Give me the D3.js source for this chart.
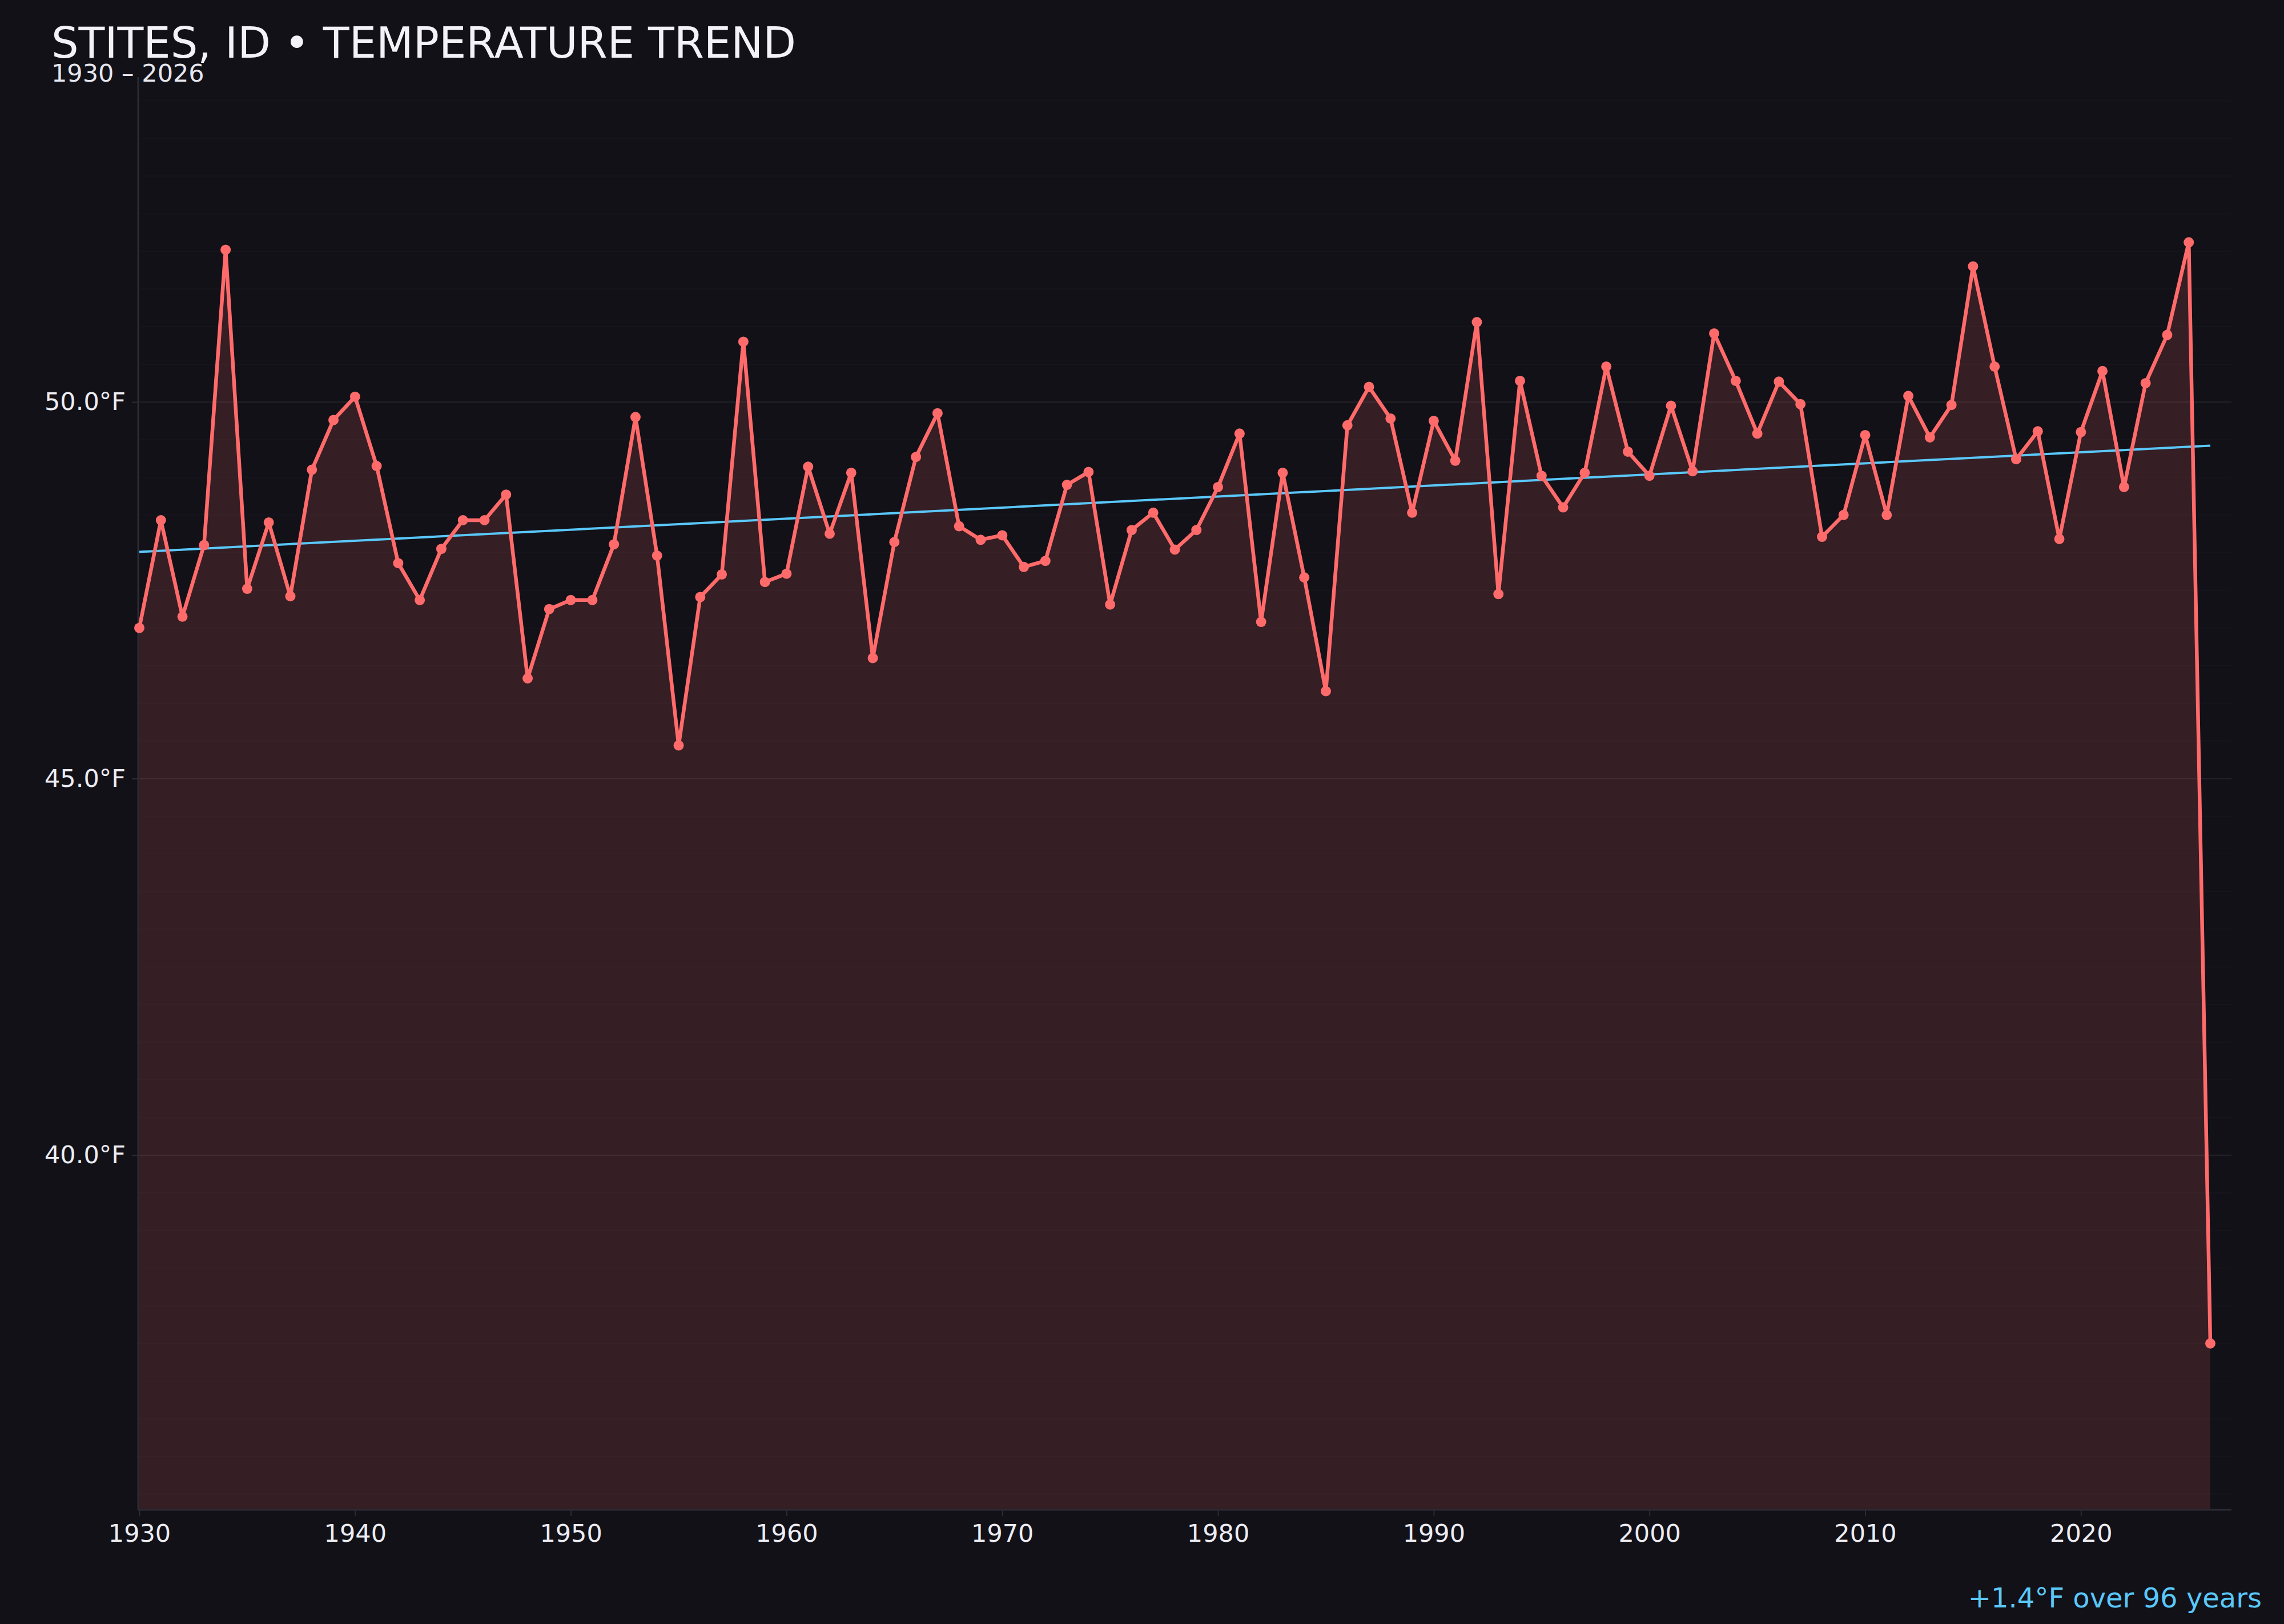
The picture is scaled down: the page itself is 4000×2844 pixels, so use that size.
<!DOCTYPE html>
<html>
<head>
<meta charset="utf-8">
<script src="https://cdn.jsdelivr.net/npm/d3@7"></script>
<style>
  html, body { margin: 0; padding: 0; background: #121118; }
  svg { display: block; font-family: "DejaVu Sans", sans-serif; }
</style>
</head>
<body>
<div id="chart"></div>
<script>
// annual mean temperature, Stites ID
var startYear = 1930
var temps = [
  47.00, 48.43, 47.15, 48.10, 52.02, 47.52, 48.40, 47.42, 49.10, 49.76, // 1930s
  50.07, 49.15, 47.86, 47.37, 48.05, 48.43, 48.43, 48.77, 46.33, 47.25, // 1940s
  47.37, 47.37, 48.11, 49.80, 47.96, 45.44, 47.41, 47.71, 50.80, 47.61, // 1950s
  47.72, 49.14, 48.25, 49.06, 46.60, 48.14, 49.27, 49.85, 48.35, 48.17, // 1960s
  48.23, 47.81, 47.89, 48.90, 49.07, 47.31, 48.30, 48.53, 48.04, 48.30, // 1970s
  48.87, 49.58, 47.08, 49.06, 47.67, 46.16, 49.69, 50.20, 49.78, 48.53, // 1980s
  49.75, 49.22, 51.06, 47.45, 50.28, 49.02, 48.60, 49.06, 50.47, 49.34, // 1990s
  49.02, 49.95, 49.08, 50.91, 50.28, 49.58, 50.27, 49.97, 48.21, 48.50, // 2000s
  49.56, 48.50, 50.08, 49.53, 49.96, 51.80, 50.47, 49.24, 49.61, 48.18, // 2010s
  49.60, 50.41, 48.87, 50.25, 50.89, 52.12, 37.50                       // 2020s
]
var trendYears = [1930, 2026]
var trendTemps = [48.01, 49.42]
var xTicks = [1930, 1940, 1950, 1960, 1970, 1980, 1990, 2000, 2010, 2020]
var yTicks = [40, 45, 50]
var title = 'STITES, ID \u2022 TEMPERATURE TREND'
var subtitle = '1930 \u2013 2026'
var note = '+1.4\u00B0F over 96 years'

;(function (d3) {
  var W = 4000, H = 2844
  var box = { left: 242, right: 3908, top: 135, bottom: 2644 }

  var data = temps.map(function (t, i) { return { year: startYear + i, temp: t } })
  var trend = trendYears.map(function (y, i) { return { year: y, temp: trendTemps[i] } })

  var svg = d3.select('#chart').append('svg')
    .attr('width', W)
    .attr('height', H)

  svg.append('rect')
    .attr('width', W)
    .attr('height', H)
    .attr('fill', '#121118')

  var lo = d3.min(temps), hi = d3.max(temps)
  var pad = (hi - lo) * 0.15

  var x = d3.scaleLinear()
    .domain([trendYears[0], trendYears[1]])
    .range([244, 3871])
  var y = d3.scaleLinear()
    .domain([lo - pad, hi + pad])
    .range([box.bottom - 2, box.top])

  // faint half-degree grid
  var minor = d3.range(Math.ceil((lo - pad) * 2) / 2, hi + pad, 0.5)
  svg.append('g').selectAll('line')
    .data(minor)
    .enter().append('line')
    .attr('x1', box.left).attr('x2', box.right)
    .attr('y1', function (d) { return y(d) }).attr('y2', function (d) { return y(d) })
    .attr('stroke', '#16151c')
    .attr('stroke-width', 2)

  svg.append('g').selectAll('line')
    .data(yTicks)
    .enter().append('line')
    .attr('x1', box.left).attr('x2', box.right)
    .attr('y1', function (d) { return y(d) }).attr('y2', function (d) { return y(d) })
    .attr('stroke', '#222128')
    .attr('stroke-width', 2)

  // area under the series
  var area = d3.area()
    .x(function (d) { return x(d.year) })
    .y0(y(lo - pad))
    .y1(function (d) { return y(d.temp) })
  svg.append('path')
    .datum(data)
    .attr('d', area)
    .attr('fill', '#ff6b6b')
    .attr('fill-opacity', 0.15)

  // axes
  var xAxis = d3.axisBottom(x)
    .tickValues(xTicks)
    .tickFormat(d3.format('d'))
    .tickSize(11)
    .tickPadding(14)
  var yAxis = d3.axisLeft(y)
    .tickValues(yTicks)
    .tickFormat(function (d) { return d3.format('.1f')(d) + '\u00B0F' })
    .tickSize(11)
    .tickPadding(11)

  var gx = svg.append('g')
    .attr('transform', 'translate(0,' + box.bottom + ')')
    .call(xAxis)
  var gy = svg.append('g')
    .attr('transform', 'translate(' + box.left + ',0)')
    .call(yAxis)

  ;[gx, gy].forEach(function (g) {
    g.select('.domain').remove()
    g.selectAll('.tick line').attr('stroke', '#2c2b34').attr('stroke-width', 2)
    g.selectAll('.tick text')
      .attr('fill', '#ececf2')
      .style('font-size', '43px')
      .style('font-family', '"DejaVu Sans", sans-serif')
  })

  // spines
  svg.append('line')
    .attr('x1', box.left).attr('x2', box.right)
    .attr('y1', box.bottom).attr('y2', box.bottom)
    .attr('stroke', '#2c2b34').attr('stroke-width', 3)
  svg.append('line')
    .attr('x1', box.left).attr('x2', box.left)
    .attr('y1', box.top).attr('y2', box.bottom)
    .attr('stroke', '#2c2b34').attr('stroke-width', 3)

  // trend line
  var line = d3.line()
    .x(function (d) { return x(d.year) })
    .y(function (d) { return y(d.temp) })
  svg.append('path')
    .datum(trend)
    .attr('d', line)
    .attr('fill', 'none')
    .attr('stroke', '#5ac8fa')
    .attr('stroke-width', 4)

  // temperature series
  svg.append('path')
    .datum(data)
    .attr('d', line)
    .attr('fill', 'none')
    .attr('stroke', '#ff6b6b')
    .attr('stroke-width', 6.5)
    .attr('stroke-linejoin', 'round')

  svg.append('g').selectAll('circle')
    .data(data)
    .enter().append('circle')
    .attr('cx', function (d) { return x(d.year) })
    .attr('cy', function (d) { return y(d.temp) })
    .attr('r', 9)
    .attr('fill', '#ff6b6b')

  // text
  svg.append('text')
    .attr('x', 90).attr('y', 101)
    .attr('fill', '#f2f2f7')
    .style('font-size', '75px')
    .text(title)
  svg.append('text')
    .attr('x', 90).attr('y', 143)
    .attr('fill', '#e6e6ee')
    .style('font-size', '43px')
    .text(subtitle)
  svg.append('text')
    .attr('x', 3961).attr('y', 2815)
    .attr('text-anchor', 'end')
    .attr('fill', '#5ac8fa')
    .style('font-size', '48px')
    .text(note)
})(d3);
</script>
</body>
</html>
